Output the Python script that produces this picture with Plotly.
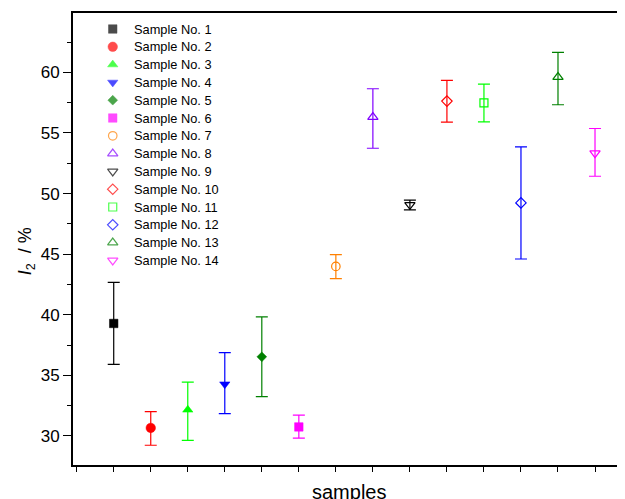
import plotly.graph_objects as go

samples = [f"Sample No. {i}" for i in range(1, 15)]
xpos = list(range(1, 15))
values = [39.28, 30.66, 32.15, 34.27, 36.53, 30.74, 43.99, 56.31, 49.07, 57.63, 57.49, 49.23, 59.61, 53.33]
err_plus = [3.39, 1.34, 2.29, 2.61, 3.30, 0.97, 0.97, 2.34, 0.38, 1.71, 1.54, 4.63, 2.04, 2.04]
err_minus = [3.38, 1.43, 2.51, 2.43, 3.28, 0.93, 1.01, 2.57, 0.42, 1.74, 1.57, 4.63, 2.28, 1.90]
colors = ["#000000", "#FF0000", "#00FF00", "#0000FF", "#008000", "#FF00FF", "#FF8000",
          "#8000FF", "#000000", "#FF0000", "#00FF00", "#0000FF", "#008000", "#FF00FF"]
symbols = ["square", "circle", "triangle-up", "triangle-down", "diamond", "square",
           "circle-open", "triangle-up-open", "triangle-down-open", "diamond-open",
           "square-open", "diamond-open", "triangle-up-open", "triangle-down-open"]
sizes = [8.5, 9.5, 9, 9, 7.5, 8.5, 8.5, 9, 9, 8, 8, 8, 9, 9]
yticks = [30, 35, 40, 45, 50, 55, 60]

font = "Liberation Sans, Arial, sans-serif"

# the page body adds an 8px margin; sizes below place the plot area where the reference has it
PLOT_H = 452.0
TOP = 5
fig = go.Figure()
for i in range(14):
    is_open = symbols[i].endswith("-open")
    fig.add_trace(go.Scatter(
        x=[xpos[i]], y=[values[i]], mode="markers", name=samples[i], showlegend=False,
        marker=dict(symbol=symbols[i], color=colors[i], size=sizes[i],
                    line=dict(color=colors[i], width=1.2 if is_open else 0.5)),
        error_y=dict(type="data", symmetric=False, array=[err_plus[i]],
                     arrayminus=[err_minus[i]], color=colors[i], thickness=1.2, width=6),
    ))

# legend drawn on an overlay axis (0..1 in both directions)
row0_px, row_gap_px = 16.0, 17.8
leg_y = [1 - (row0_px + row_gap_px * i) / PLOT_H for i in range(14)]
leg_marker_x = 0.072
leg_text_x = 0.106
fig.add_trace(go.Scatter(
    x=[leg_marker_x] * 14, y=leg_y, mode="markers", xaxis="x2", yaxis="y2", showlegend=False,
    marker=dict(symbol=symbols, color=colors, size=sizes,
                line=dict(color=colors, width=[1.2 if s.endswith("-open") else 0.5 for s in symbols])),
    hoverinfo="skip",
))
annotations = []
for i in range(14):
    annotations.append(dict(text=samples[i], xref="x2", yref="y2", x=leg_text_x, y=leg_y[i],
                            xanchor="left", yanchor="middle", showarrow=False,
                            font=dict(size=12.8, family=font, color="black")))
annotations += [
    dict(text="samples", xref="paper", yref="paper", x=0.5, y=0, yshift=-14,
         xanchor="center", yanchor="top", showarrow=False, font=dict(size=20, family=font)),
    dict(text="<i>I</i><sub>2</sub>  / %", xref="paper", yref="paper", x=0, xshift=-47,
         y=0.473, xanchor="center", yanchor="middle", textangle=-90, showarrow=False,
         font=dict(size=18, family=font)),
]

fig.update_layout(
    width=617, height=491,
    margin=dict(l=65, r=0, t=TOP, b=491 - TOP - int(PLOT_H), autoexpand=False),
    plot_bgcolor="white", paper_bgcolor="white",
    font=dict(family=font, color="black"),
    showlegend=False,
    xaxis=dict(range=[-0.1, 14.81], showgrid=False, zeroline=False, showline=True,
               linecolor="black", linewidth=2, mirror=True, ticks="outside",
               tickmode="linear", tick0=0, dtick=1, ticklen=5, tickwidth=1.2,
               tickcolor="black", showticklabels=False),
    yaxis=dict(range=[27.6, 64.9], showgrid=False, zeroline=False, showline=True,
               linecolor="black", linewidth=2, ticks="outside", tickvals=yticks,
               ticklen=8, tickwidth=1.2, tickcolor="black", tickfont=dict(size=17, family=font),
               minor=dict(ticks="outside", dtick=2.5, tick0=27.5, ticklen=4, tickwidth=1.2,
                          tickcolor="black")),
    xaxis2=dict(range=[0, 1], overlaying="x", visible=False, fixedrange=True),
    yaxis2=dict(range=[0, 1], overlaying="y", visible=False, fixedrange=True),
    annotations=annotations,
)
fig.write_html("out.html")
